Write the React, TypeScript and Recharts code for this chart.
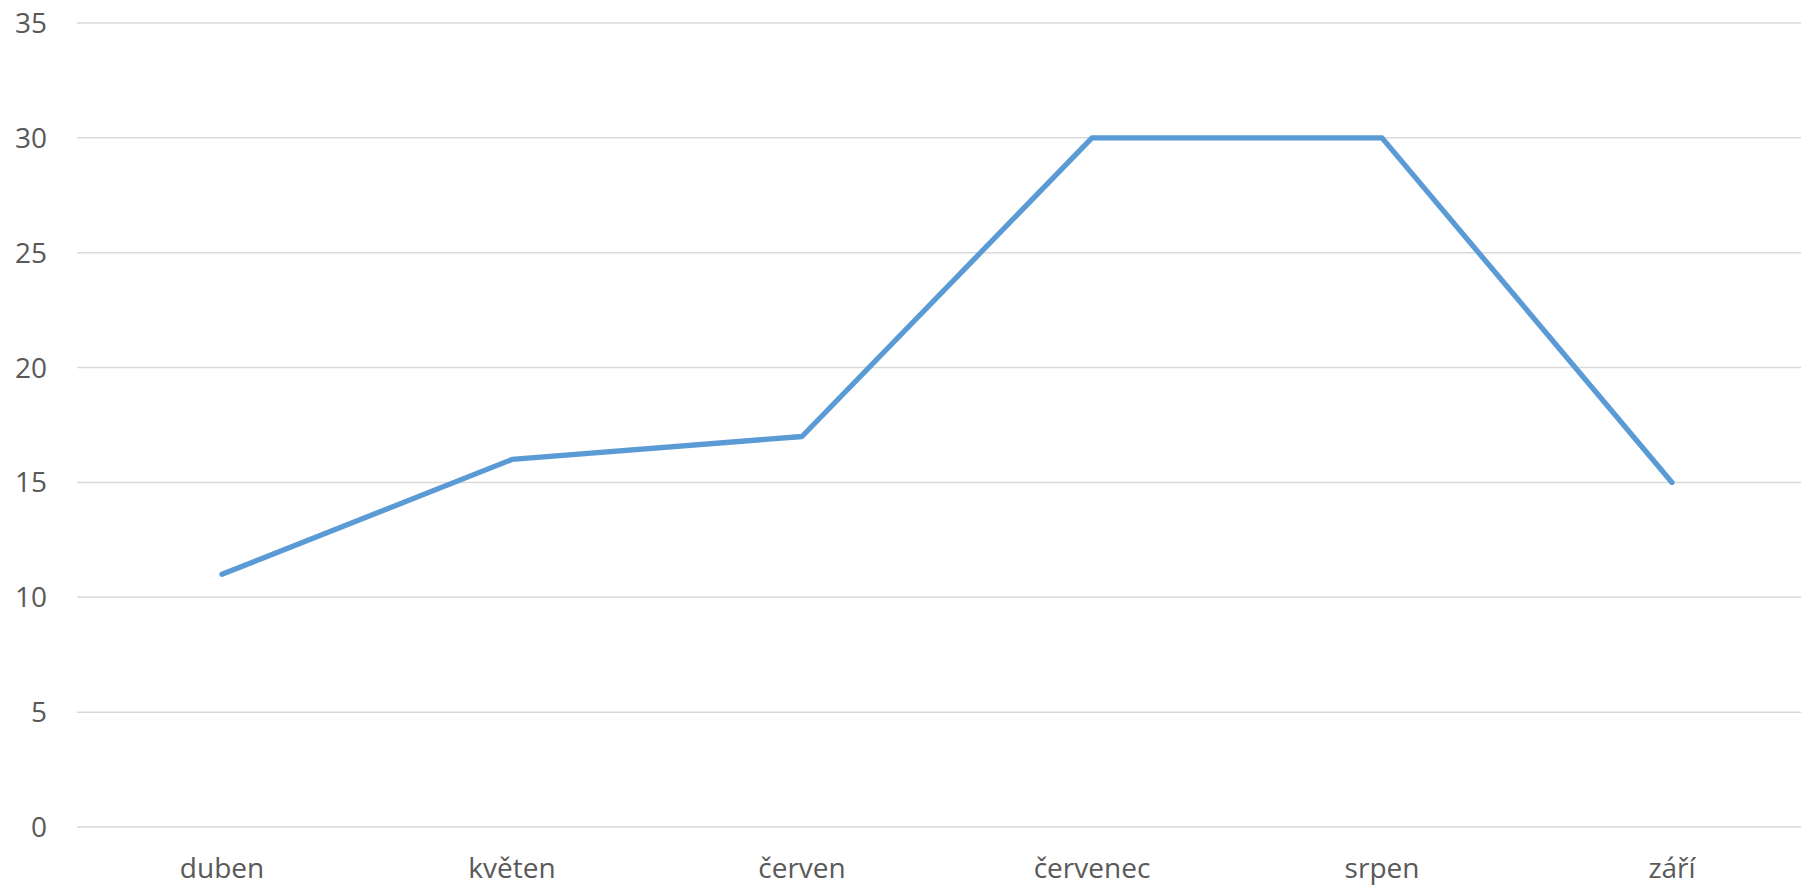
import { LineChart, Line, XAxis, YAxis, CartesianGrid } from "recharts"

const months = ["duben", "květen", "červen", "červenec", "srpen", "září"]
const values = [11, 16, 17, 30, 30, 15]
const yTicks = [0, 5, 10, 15, 20, 25, 30, 35]

const data = months.map((m, i) => ({ month: m, value: values[i] }))

const FONT = "'Open Sans', 'Segoe UI', sans-serif"
const LABEL_COLOR = "#595959"

export default function App() {
  return (
    <div
      style={{
        position: "fixed",
        top: 0,
        left: 0,
        width: 1801,
        height: 885,
        overflow: "hidden",
        background: "#fff",
      }}
    >
      <LineChart
        width={1817}
        height={900}
        data={data}
        margin={{ top: 23, right: 0, bottom: 0, left: 0 }}
      >
        <CartesianGrid vertical={false} stroke="#D9D9D9" strokeWidth={1.5} />
        <XAxis
          dataKey="month"
          height={73}
          padding={{ left: 145, right: 145 }}
          axisLine={false}
          tickLine={false}
          tickSize={0}
          tickMargin={31}
          tick={{ fill: LABEL_COLOR, fontSize: 28, fontFamily: FONT }}
        />
        <YAxis
          width={77}
          domain={[0, 35]}
          ticks={yTicks}
          interval={0}
          axisLine={false}
          tickLine={false}
          tickSize={0}
          tickMargin={30}
          tick={{ fill: LABEL_COLOR, fontSize: 28, fontFamily: FONT }}
        />
        <Line
          type="linear"
          dataKey="value"
          stroke="#5B9BD5"
          strokeWidth={5.3}
          strokeLinecap="round"
          strokeLinejoin="round"
          dot={false}
          activeDot={false}
          isAnimationActive={false}
        />
      </LineChart>
    </div>
  )
}
